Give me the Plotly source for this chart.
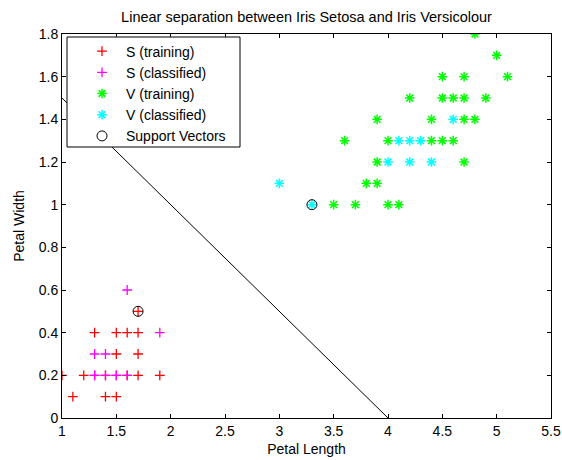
import plotly.graph_objects as go

# Setosa training (red)
s_train_x = [1.0, 1.2, 1.3, 1.4, 1.5, 1.6, 1.7, 1.9,
             1.1, 1.4, 1.5,
             1.5, 1.7,
             1.3, 1.5, 1.6, 1.7,
             1.7]
s_train_y = [0.2, 0.2, 0.2, 0.2, 0.2, 0.2, 0.2, 0.2,
             0.1, 0.1, 0.1,
             0.3, 0.3,
             0.4, 0.4, 0.4, 0.4,
             0.5]
# Setosa classified (magenta)
s_cls_x = [1.3, 1.4, 1.5, 1.6, 1.3, 1.4, 1.9, 1.6]
s_cls_y = [0.2, 0.2, 0.2, 0.2, 0.3, 0.3, 0.4, 0.6]

# Versicolour training (green)
v_train_x = [4.8, 5.0, 4.5, 4.7, 5.1,
             4.2, 4.5, 4.6, 4.7, 4.9,
             3.9, 4.4, 4.7, 4.8,
             3.6, 4.0, 4.4, 4.5, 4.6,
             3.9, 4.7,
             3.8, 3.9,
             3.5, 3.7, 4.0, 4.1]
v_train_y = [1.8, 1.7, 1.6, 1.6, 1.6,
             1.5, 1.5, 1.5, 1.5, 1.5,
             1.4, 1.4, 1.4, 1.4,
             1.3, 1.3, 1.3, 1.3, 1.3,
             1.2, 1.2,
             1.1, 1.1,
             1.0, 1.0, 1.0, 1.0]
# Versicolour classified (cyan)
v_cls_x = [4.6, 4.1, 4.2, 4.3, 4.0, 4.2, 4.4, 3.0, 3.3]
v_cls_y = [1.4, 1.3, 1.3, 1.3, 1.2, 1.2, 1.2, 1.1, 1.0]

# Support vectors
sv_x = [1.7, 3.3]
sv_y = [0.5, 1.0]

# Separating line (x + 2y = 4)
line_x = [1.0, 4.0]
line_y = [1.5, 0.0]

x_ticks = [1, 1.5, 2, 2.5, 3, 3.5, 4, 4.5, 5, 5.5]
y_ticks = [0, 0.2, 0.4, 0.6, 0.8, 1, 1.2, 1.4, 1.6, 1.8]

FONT = "Liberation Sans, Arial, sans-serif"
W, H = 562, 460
ML, MR, MT, MB = 62, 11, 34, 42
PW, PH = W - ML - MR, H - MT - MB


def px_x(p):
    return (p - ML) / PW


def px_y(p):
    return (H - MB - p) / PH


fig = go.Figure()
fig.add_trace(go.Scatter(x=s_train_x, y=s_train_y, mode="markers", name="S (training)",
                         marker=dict(symbol="cross-thin-open", size=7, color="#ff0000",
                                     line=dict(width=1.3, color="#ff0000"))))
fig.add_trace(go.Scatter(x=s_cls_x, y=s_cls_y, mode="markers", name="S (classified)",
                         marker=dict(symbol="cross-thin-open", size=7, color="#ff00ff",
                                     line=dict(width=1.3, color="#ff00ff"))))
fig.add_trace(go.Scatter(x=v_train_x, y=v_train_y, mode="markers", name="V (training)",
                         marker=dict(symbol="asterisk-open", size=8, color="#00ff00",
                                     line=dict(width=1.5, color="#00ff00"))))
fig.add_trace(go.Scatter(x=v_cls_x, y=v_cls_y, mode="markers", name="V (classified)",
                         marker=dict(symbol="asterisk-open", size=8, color="#00ffff",
                                     line=dict(width=1.5, color="#00ffff"))))
fig.add_trace(go.Scatter(x=sv_x, y=sv_y, mode="markers", name="Support Vectors",
                         marker=dict(symbol="circle-open", size=10, color="#000000",
                                     line=dict(width=1, color="#000000"))))
fig.add_trace(go.Scatter(x=line_x, y=line_y, mode="lines", showlegend=False,
                         line=dict(color="#000000", width=1)))

axis_common = dict(showline=True, mirror="ticks", linecolor="black", linewidth=1,
                   ticks="inside", ticklen=4, tickcolor="black", showgrid=False,
                   zeroline=False, automargin=False,
                   tickfont=dict(family=FONT, size=14, color="black"))

fig.update_layout(
    width=W, height=H,
    margin=dict(l=ML, r=MR, t=MT, b=MB),
    paper_bgcolor="white", plot_bgcolor="white",
    font=dict(family=FONT, size=14, color="black"),
    title=dict(text="Linear separation between Iris Setosa and Iris Versicolour",
               x=0.5, xref="paper", xanchor="center", y=1 - 17 / H, yanchor="middle",
               font=dict(family=FONT, size=14.5, color="black")),
    xaxis=dict(range=[1, 5.5], tickvals=x_ticks, ticktext=[f"{v:g}" for v in x_ticks],
               title=dict(text="Petal Length", font=dict(family=FONT, size=14), standoff=6),
               **axis_common),
    yaxis=dict(range=[0, 1.8], tickvals=y_ticks, ticktext=[f"{v:g}" for v in y_ticks],
               title=dict(text="Petal Width", font=dict(family=FONT, size=14), standoff=10),
               **axis_common),
    legend=dict(x=px_x(78), y=px_y(35.5), xanchor="left", yanchor="top",
                borderwidth=0, bgcolor="rgba(0,0,0,0)", itemwidth=38,
                font=dict(family=FONT, size=14, color="black")),
    shapes=[dict(type="rect", xref="paper", yref="paper",
                 x0=px_x(67), x1=px_x(240), y0=px_y(147), y1=px_y(37),
                 line=dict(color="black", width=1), fillcolor="white", layer="above")],
)

fig.write_html("out.html")
